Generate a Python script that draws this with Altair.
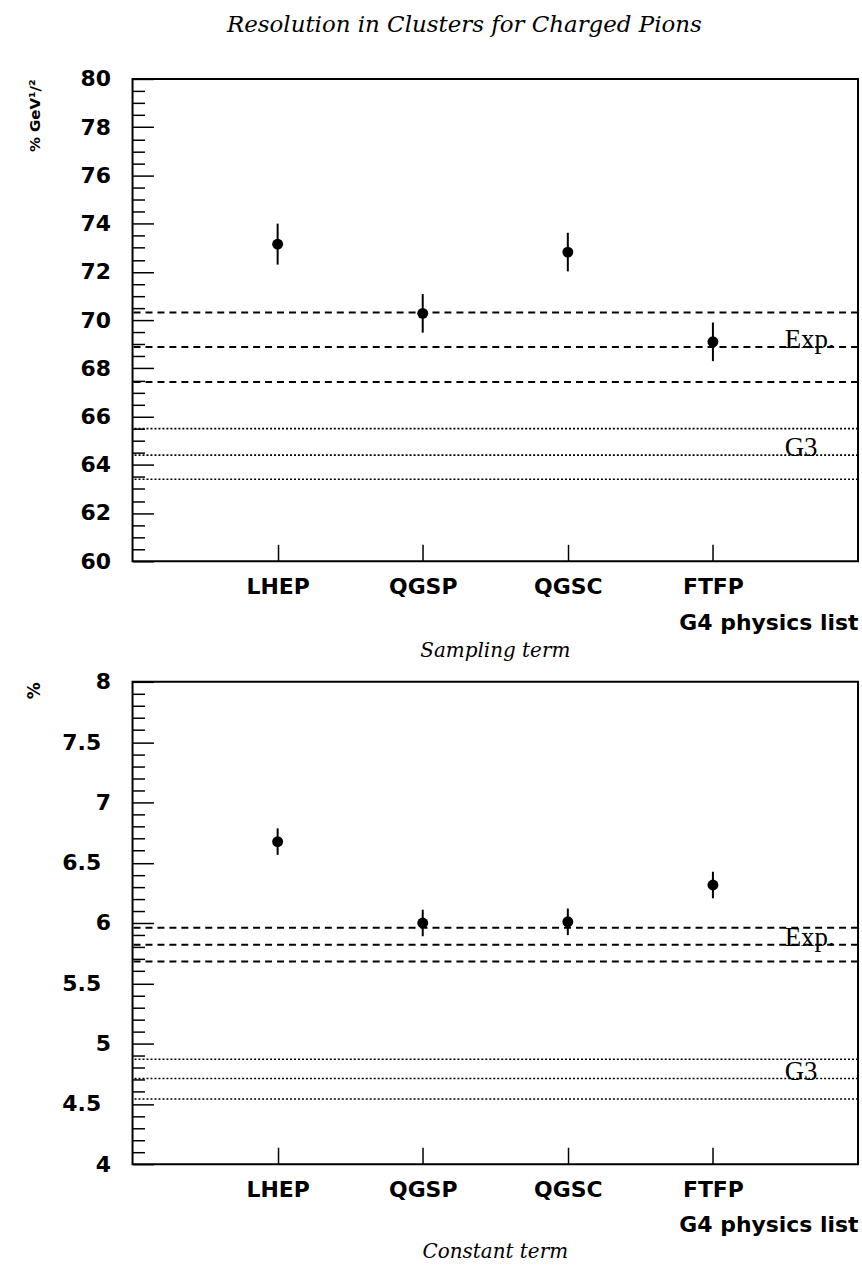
import altair as alt
import pandas as pd

# ---- data ----
lists = ["LHEP", "QGSP", "QGSC", "FTFP"]
sampling = [73.15, 70.28, 72.82, 69.10]
sampling_err = [0.85, 0.80, 0.80, 0.80]
constant = [6.675, 6.00, 6.01, 6.315]
constant_err = [0.11, 0.11, 0.11, 0.11]
sampling_exp = [70.32, 68.88, 67.43]
sampling_g3 = [65.50, 64.40, 63.40]
constant_exp = [5.96, 5.82, 5.68]
constant_g3 = [4.87, 4.71, 4.54]

sampling_major = [60, 62, 64, 66, 68, 70, 72, 74, 76, 78, 80]
sampling_ticks = [60 + 0.5 * i for i in range(41)]
constant_major = [4, 4.5, 5, 5.5, 6, 6.5, 7, 7.5, 8]
constant_ticks = [round(4 + 0.1 * i, 1) for i in range(41)]

W, H = 728, 484
SANS = "DejaVu Sans"
SERIF = "DejaVu Serif"


def panel(vals, errs, exp, g3, domain, major, ticks, major_test, int_test,
          ytitle, ytitle_size, sub_title, sub_offset):
    df = pd.DataFrame({
        "list": lists,
        "val": vals,
        "lo": [v - e for v, e in zip(vals, errs)],
        "hi": [v + e for v, e in zip(vals, errs)],
    })
    lines = pd.DataFrame({"v": exp + g3, "kind": ["exp"] * len(exp) + ["g3"] * len(g3)})
    labels = pd.DataFrame({"list": ["FTFP", "FTFP"], "v": [exp[1], g3[1]], "t": ["Exp.", "G3"]})

    yscale = alt.Scale(domain=domain, nice=False, zero=False)
    xscale = alt.Scale(type="point", domain=lists, padding=1)

    rules = alt.Chart(lines).mark_rule(color="black").encode(
        y=alt.Y("v:Q", scale=yscale, axis=None),
        strokeDash=alt.StrokeDash("kind:N", scale=alt.Scale(domain=["exp", "g3"], range=[[7, 5], [2, 2]]), legend=None),
        strokeWidth=alt.StrokeWidth("kind:N", scale=alt.Scale(domain=["exp", "g3"], range=[2, 1.6]), legend=None),
    )

    errors = alt.Chart(df).mark_rule(color="black", strokeWidth=2).encode(
        x=alt.X("list:N", scale=xscale, sort=lists,
                axis=alt.Axis(orient="top", offset=-H, labels=False, domain=False, grid=False,
                              tickSize=17, tickColor="black", tickWidth=1.5, title=None)),
        y=alt.Y("lo:Q", scale=yscale,
                axis=alt.Axis(orient="right", offset=-W, values=ticks, labels=False, domain=False,
                              grid=False, tickColor="black", tickWidth=1.5,
                              tickSize={"condition": {"test": major_test, "value": 21}, "value": 12},
                              title=None)),
        y2="hi:Q",
    )

    points = alt.Chart(df).mark_circle(size=120, color="black", opacity=1).encode(
        x=alt.X("list:N", scale=xscale, sort=lists,
                axis=alt.Axis(orient="bottom", ticks=False, domain=False, grid=False, labelAngle=0,
                              labelFont=SANS, labelFontWeight="bold", labelFontSize=22,
                              labelColor="black", labelPadding=15,
                              title="G4 physics list", titleFont=SANS, titleFontWeight="bold",
                              titleFontSize=22, titleColor="black", titleAnchor="end",
                              titleAlign="right", titleX=W, titleY=68, titleBaseline="alphabetic")),
        y=alt.Y("val:Q", scale=yscale,
                axis=alt.Axis(orient="left", values=major, ticks=False, domain=False, grid=False,
                              format="~g",
                              labelFont=SANS, labelFontWeight="bold", labelFontSize=22,
                              labelColor="black",
                              labelPadding={"condition": {"test": int_test, "value": 22}, "value": 32},
                              title=ytitle, titleFont=SANS, titleFontWeight="bold",
                              titleFontSize=ytitle_size, titleColor="black", titleAngle=270,
                              titleX=-98, titleY=0, titleAlign="right", titleBaseline="middle")),
    )

    text = alt.Chart(labels).mark_text(align="left", baseline="alphabetic", dx=72, dy=1,
                                       font="Liberation Serif", fontSize=27, color="black").encode(
        x=alt.X("list:N", scale=xscale, sort=lists, axis=None),
        y=alt.Y("v:Q", scale=yscale, axis=None),
        text="t:N",
    )

    return alt.layer(rules, errors, points, text).resolve_axis(
        x="independent", y="independent"
    ).properties(
        width=W, height=H,
        title=alt.TitleParams(sub_title, orient="bottom", anchor="middle", frame="group",
                              font=SERIF, fontStyle="italic", fontWeight="normal",
                              fontSize=20, color="black", offset=sub_offset),
    )


top = panel(sampling, sampling_err, sampling_exp, sampling_g3, [60, 80],
            sampling_major, sampling_ticks,
            "abs(datum.value / 2 - round(datum.value / 2)) < 0.001",
            "abs(datum.value - round(datum.value)) < 0.001",
            "% GeV¹/²", 15, "Sampling term", 8)
bottom = panel(constant, constant_err, constant_exp, constant_g3, [4, 8],
               constant_major, constant_ticks,
               "abs(datum.value * 2 - round(datum.value * 2)) < 0.001",
               "abs(datum.value - round(datum.value)) < 0.001",
               "%", 17, "Constant term", 6)

chart = alt.vconcat(top, bottom, spacing=121, bounds="flush").properties(
    title=alt.TitleParams("Resolution in Clusters for Charged Pions", anchor="middle",
                          font=SERIF, fontStyle="italic", fontWeight="normal", fontSize=23,
                          color="black", offset=30, dx=22),
    padding={"left": 25, "top": 12, "right": 2, "bottom": 5},
).configure_view(stroke="black", strokeWidth=2)

chart.save("out.html", embed_options={"renderer": "svg", "actions": False})
